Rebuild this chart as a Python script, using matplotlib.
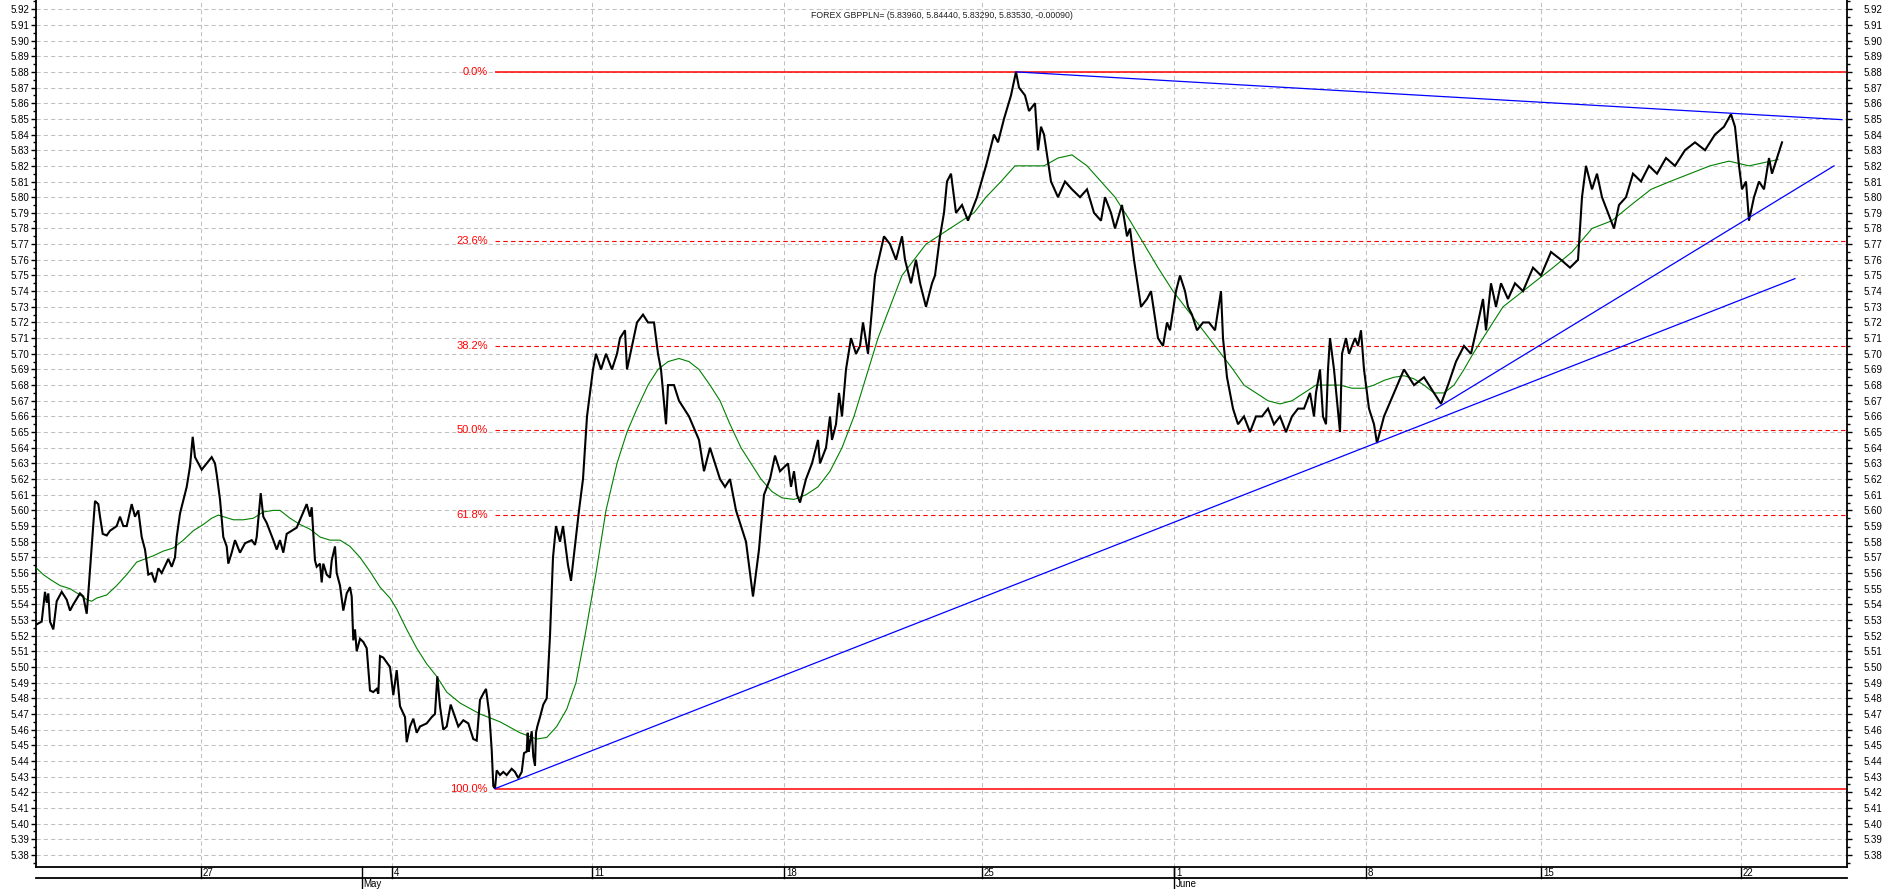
import matplotlib
matplotlib.use("Agg")
import matplotlib.pyplot as plt
from matplotlib.ticker import MultipleLocator, FormatStrFormatter
from matplotlib.transforms import blended_transform_factory

plt.rcParams['font.family'] = ['Liberation Sans', 'DejaVu Sans']

# ---------------- data (x in bar index) ----------------
price_x = [0, 5.7, 9, 10.7, 12.3, 14, 17.3, 20.7, 25.7, 30.7, 34, 37.3, 44, 47.3, 50.7, 52.3, 55.7, 59, 62.3, 64,
           66.7, 70.7, 74, 80.7, 84, 87.3, 90.7, 95.7, 99, 102.3, 105.7, 109, 112.3, 115.7, 119, 122.3, 125.7, 132.3,
           135.7, 139, 140.7, 144, 150.7, 154, 156.7, 159, 165.7, 175.7, 179, 180.7, 184, 187.3, 190.7, 192.3, 195.7,
           199, 204, 209, 215.7, 219, 220.7, 224.7, 227.3, 230.7, 237.3, 240.7, 244, 247.3, 250.7, 260.7, 264, 270.7,
           274, 275.7, 277.3, 279, 280.7, 284, 285.7, 287.3, 290.7, 294, 295.7, 299, 300.7, 304, 307.3, 310.7, 314,
           315.7, 317.3, 319, 320.7, 324, 327.3, 330.7, 334, 337.3, 340.7, 342.3, 344, 347.3, 354, 357.3, 360.7, 364,
           369, 370.7, 374, 377.3, 380.7, 384, 390.7, 395.7, 399, 401.3, 404, 407.3, 410.7, 414.7, 419, 422.3, 427.3,
           432.3, 437.3, 440.7, 444, 447.3, 450, 453.3, 455.7, 457.3, 459, 460.7, 464, 467.3, 470.7, 475.7, 479, 482.3,
           485.7, 488, 490.7, 491.7, 492.7, 494, 495.7, 497.3, 499, 500, 501.3, 504, 507.3, 510.7,
           514, 517, 520, 524, 527, 532, 535, 543, 547, 551, 557, 560, 565, 570, 576, 581, 584, 589, 591, 601, 607, 612,
           618, 622, 625, 630, 632, 638, 643, 653, 663, 668, 674, 684, 689, 694, 700, 705, 710, 715, 717, 720, 723, 725,
           728, 734, 739, 744, 752, 755, 758, 761, 764, 770, 776, 782, 784, 790, 794, 796, 800, 803, 806, 810, 815, 820,
           824, 827, 832, 839, 848, 854, 860, 866, 869, 875, 880, 884, 890, 896, 899, 904, 908, 911, 915, 920, 926, 932,
           938, 941, 950, 958, 962, 968, 975, 980, 983, 989, 993, 999, 1002, 1005, 1008, 1015, 1022, 1029, 1036, 1044,
           1051, 1058, 1065, 1069, 1075, 1079, 1086, 1091, 1094, 1098, 1105, 1111, 1115, 1122, 1127, 1131, 1134, 1140,
           1144, 1149, 1152, 1156, 1161, 1167, 1173, 1179, 1185, 1187, 1191, 1197, 1202, 1208, 1214, 1220, 1226, 1232,
           1238, 1244, 1250, 1256, 1262, 1268, 1274, 1278, 1280, 1284, 1287, 1290, 1292, 1294, 1298, 1301, 1304, 1306,
           1310, 1313, 1319, 1322, 1325, 1328, 1333, 1338, 1341, 1348, 1358, 1368, 1378, 1388, 1398, 1405, 1412, 1420,
           1428, 1435, 1442, 1447, 1450, 1455, 1460, 1465, 1472, 1479, 1487, 1497, 1505, 1515, 1525, 1534, 1542, 1546,
           1550, 1556, 1561, 1566, 1572, 1578, 1583, 1590, 1597, 1605, 1613, 1621, 1630, 1639, 1649, 1659, 1669, 1679,
           1688, 1695, 1699, 1703, 1706, 1710, 1713, 1718, 1723, 1728, 1733, 1736, 1746]
price_y = [5.527, 5.529, 5.548, 5.541, 5.547, 5.529, 5.524, 5.542, 5.548, 5.543, 5.536, 5.540, 5.547, 5.545, 5.534,
           5.547, 5.577, 5.606, 5.604, 5.596, 5.585, 5.584, 5.587, 5.590, 5.596, 5.590, 5.590, 5.604, 5.596, 5.600,
           5.583, 5.575, 5.559, 5.560, 5.554, 5.563, 5.560, 5.569, 5.564, 5.570, 5.583, 5.598, 5.615, 5.628, 5.647,
           5.634, 5.626, 5.634, 5.630, 5.623, 5.607, 5.583, 5.577, 5.566, 5.573, 5.581, 5.573, 5.579, 5.581, 5.578,
           5.583, 5.611, 5.596, 5.592, 5.581, 5.575, 5.581, 5.573, 5.585, 5.589, 5.594, 5.604, 5.596, 5.602, 5.585,
           5.568, 5.564, 5.566, 5.554, 5.566, 5.559, 5.557, 5.568, 5.577, 5.560, 5.552, 5.536, 5.547, 5.551, 5.545,
           5.517, 5.524, 5.510, 5.518, 5.516, 5.512, 5.485, 5.484, 5.486, 5.483, 5.507, 5.506, 5.500, 5.482, 5.498,
           5.475, 5.468, 5.452, 5.462, 5.467, 5.458, 5.462, 5.464, 5.468, 5.470, 5.494, 5.475, 5.460, 5.462, 5.476,
           5.468, 5.462, 5.466, 5.464, 5.454, 5.453, 5.479, 5.483, 5.486, 5.470, 5.447, 5.424, 5.4223, 5.434, 5.431,
           5.433, 5.431, 5.435, 5.433, 5.429, 5.433, 5.445, 5.446, 5.458, 5.446, 5.452, 5.459, 5.443, 5.437, 5.458,
           5.462, 5.468, 5.476, 5.480,
           5.52, 5.57, 5.59, 5.58, 5.59, 5.565, 5.555, 5.60, 5.62, 5.66, 5.69, 5.70, 5.69, 5.70, 5.69, 5.70, 5.71,
           5.715, 5.69, 5.72, 5.725, 5.72, 5.72, 5.70, 5.69, 5.655, 5.68, 5.68, 5.67, 5.66, 5.645, 5.625, 5.64, 5.62,
           5.615, 5.62, 5.60, 5.59, 5.58, 5.555, 5.545, 5.56, 5.575, 5.59, 5.61, 5.62, 5.635, 5.625, 5.63, 5.615,
           5.625, 5.61, 5.605, 5.62, 5.63, 5.645, 5.63, 5.64, 5.66, 5.645, 5.655, 5.675, 5.66, 5.69, 5.71, 5.70,
           5.705, 5.72, 5.70, 5.75, 5.775, 5.77, 5.76, 5.775, 5.76, 5.745, 5.76, 5.745, 5.73, 5.745, 5.75, 5.775,
           5.79, 5.81, 5.815, 5.79, 5.795, 5.785, 5.795, 5.80, 5.82, 5.84, 5.835, 5.85, 5.865, 5.88, 5.87, 5.865,
           5.855, 5.86, 5.83, 5.845, 5.84, 5.81, 5.80, 5.81, 5.805, 5.80, 5.805, 5.79, 5.785, 5.80, 5.79, 5.78, 5.795,
           5.775, 5.78, 5.76, 5.73, 5.735, 5.74, 5.71, 5.705, 5.72, 5.715, 5.74, 5.75, 5.74, 5.73, 5.725, 5.715, 5.72,
           5.72, 5.715, 5.74, 5.71, 5.685, 5.665, 5.655, 5.66, 5.65, 5.66, 5.66, 5.665, 5.655, 5.66, 5.65, 5.66,
           5.665, 5.665, 5.675, 5.66, 5.675, 5.69, 5.66, 5.655, 5.69, 5.71, 5.69, 5.67, 5.65, 5.70, 5.71, 5.70, 5.71,
           5.705, 5.715, 5.69, 5.665, 5.655, 5.643, 5.66, 5.675, 5.69, 5.68, 5.685, 5.675, 5.668, 5.68, 5.695, 5.705,
           5.70, 5.72, 5.735, 5.715, 5.745, 5.73, 5.745, 5.735, 5.745, 5.74, 5.755, 5.75, 5.765, 5.76, 5.755, 5.76,
           5.80, 5.82, 5.805, 5.815, 5.80, 5.79, 5.78, 5.795, 5.80, 5.815, 5.81, 5.82, 5.815, 5.825, 5.82, 5.83,
           5.835, 5.83, 5.84, 5.845, 5.853, 5.845, 5.82, 5.805, 5.81, 5.785, 5.80, 5.81, 5.805, 5.825, 5.815, 5.835]

ma_x = [0.7, 7.3, 14, 24, 34, 44, 50.7, 55.7, 60.7, 70.7, 80.7, 90.7, 100.7, 109, 117.3, 127.3, 137.3, 147.3, 157.3,
        167.3, 175.7, 182.3, 187.3, 197.3, 207.3, 217.3, 227.3, 237.3, 244, 254, 264, 274, 284, 294, 304, 314, 324,
        334, 344, 354, 360.7, 370.7, 380.7, 390.7, 400.7, 410.7, 424, 444, 464, 484, 500.7, 510.7, 520.7, 530.7,
        540, 549, 560, 570, 581, 591, 601, 612, 622, 632, 643, 653, 663, 674, 684, 694, 705, 715, 725, 736, 746, 758,
        770, 782, 794, 806, 818, 830, 842, 854, 866, 878, 890, 902, 914, 926, 938, 950, 965, 979, 993, 1008, 1022,
        1036, 1051, 1065, 1079, 1094, 1108, 1122, 1137, 1149, 1161, 1173, 1185, 1197, 1208, 1220, 1232, 1244, 1256,
        1268, 1280, 1292, 1304, 1316, 1328, 1338, 1348, 1358, 1368, 1378, 1388, 1398, 1408, 1418, 1428, 1437, 1447,
        1457, 1467, 1477, 1487, 1497, 1507, 1517, 1536, 1556, 1576, 1595, 1615, 1634, 1654, 1674, 1693, 1713, 1742]
ma_y = [5.563, 5.559, 5.556, 5.552, 5.550, 5.546, 5.543, 5.542, 5.544, 5.546, 5.552, 5.559, 5.567, 5.569, 5.571,
        5.574, 5.576, 5.581, 5.587, 5.591, 5.595, 5.597, 5.596, 5.594, 5.594, 5.595, 5.599, 5.600, 5.600, 5.595,
        5.591, 5.588, 5.583, 5.581, 5.581, 5.577, 5.570, 5.561, 5.551, 5.544, 5.537, 5.524, 5.512, 5.502, 5.494,
        5.484, 5.477, 5.470, 5.465, 5.458, 5.454, 5.455, 5.462, 5.473, 5.49, 5.52, 5.56, 5.60, 5.63, 5.65, 5.665,
        5.68, 5.69, 5.695, 5.697, 5.695, 5.69, 5.68, 5.67, 5.655, 5.64, 5.63, 5.62, 5.612, 5.608, 5.607, 5.61,
        5.615, 5.625, 5.64, 5.66, 5.685, 5.71, 5.73, 5.75, 5.76, 5.77, 5.775, 5.78, 5.785, 5.79, 5.80, 5.81, 5.82,
        5.82, 5.82, 5.825, 5.827, 5.82, 5.81, 5.80, 5.785, 5.77, 5.755, 5.74, 5.73, 5.72, 5.71, 5.70, 5.69, 5.68,
        5.675, 5.67, 5.668, 5.67, 5.675, 5.68, 5.68, 5.68, 5.678, 5.678, 5.68, 5.683, 5.685, 5.686, 5.684, 5.68,
        5.675, 5.675, 5.68, 5.69, 5.70, 5.71, 5.72, 5.73, 5.735, 5.74, 5.745, 5.75, 5.755, 5.765, 5.78, 5.785,
        5.795, 5.805, 5.81, 5.815, 5.82, 5.823, 5.82, 5.824]

# Trend lines drawn on the chart (start x, start y, end x, end y)
resist_x = [980, 1806]
resist_y = [5.8800, 5.8495]
support_long_x = [459, 1759]
support_long_y = [5.4223, 5.748]
support_short_x = [1400, 1798]
support_short_y = [5.665, 5.820]

# Fibonacci retracement
fib_low = 5.4223
fib_high = 5.8800
fib_levels = [0.0, 23.6, 38.2, 50.0, 61.8, 100.0]

# x axis labels
day_pos = [165, 356, 556, 748, 946, 1138, 1330, 1505, 1705]
day_labels = ['27', '4', '11', '18', '25', '1', '8', '15', '22']
month_pos = [326, 1138]
month_labels = ['May', 'June']

title = "FOREX GBPPLN= (5.83960, 5.84440, 5.83290, 5.83530, -0.00090)"

# ---------------- figure ----------------
W, H = 1883, 889
fig = plt.figure(figsize=(W / 100, H / 100), dpi=100)
ax_l, ax_r, ax_b, ax_t = 36, 1847, 867.3, 0
ax = fig.add_axes([ax_l / W, 1 - ax_b / H, (ax_r - ax_l) / W, (ax_b - ax_t) / H])
ax.set_xlim(0, 1811)
ylim = (5.3721, 5.9259)
ax.set_ylim(*ylim)

grid_col = '#c0c0c0'
ax.yaxis.set_major_locator(MultipleLocator(0.01))
ax.yaxis.set_minor_locator(MultipleLocator(0.005))
ax.yaxis.set_major_formatter(FormatStrFormatter('%.2f'))
ax.grid(axis='y', which='major', color=grid_col, linestyle=(0, (4, 3)), linewidth=0.75)
for p in day_pos:
    ax.axvline(p, color=grid_col, linestyle=(0, (4, 3)), linewidth=0.75, zorder=0.5)

ax.tick_params(axis='y', which='major', direction='out', length=3.5, width=1.0, labelsize=7,
               left=True, right=False, labelleft=True, labelright=False, pad=1.5)
ax.tick_params(axis='y', which='minor', direction='out', length=2, width=1.0, left=True, right=False)
ax.set_xticks([])

# right-hand price scale
ax2 = ax.twinx()
ax2.set_ylim(*ylim)
ax2.yaxis.set_major_locator(MultipleLocator(0.01))
ax2.yaxis.set_minor_locator(MultipleLocator(0.005))
ax2.yaxis.set_major_formatter(FormatStrFormatter('%.2f'))
ax2.tick_params(axis='y', which='major', direction='out', length=3.5, width=1.0, labelsize=7, pad=8.5)
ax2.tick_params(axis='y', which='minor', direction='out', length=2, width=1.0)
for a in (ax, ax2):
    a.spines['top'].set_visible(False)
    for s in ['left', 'bottom', 'right']:
        a.spines[s].set_linewidth(1.3)
        a.spines[s].set_color('black')
ax2.spines['left'].set_visible(False)
ax2.spines['bottom'].set_visible(False)
ax.spines['right'].set_visible(False)

# Fibonacci
rng = fib_high - fib_low
low_idx = price_y.index(min(price_y))
fib_x0 = price_x[low_idx]
for lev in fib_levels:
    yv = fib_high - rng * lev / 100.0
    if lev in (0.0, 100.0):
        ax.plot([fib_x0, 1811], [yv, yv], color='#ff0000', linewidth=1.1, zorder=2, solid_capstyle='butt')
    else:
        ax.plot([fib_x0, 1811], [yv, yv], color='#ff0000', linewidth=0.8, linestyle=(0, (4, 3)), zorder=2)
    ax.text(fib_x0 - 7, yv, f"{lev:.1f}%", color='#ff0000', fontsize=8, ha='right', va='center', zorder=3)

# Moving average and price
ax.plot(ma_x, ma_y, color='#008000', linewidth=0.8, zorder=3)
ax.plot(price_x, price_y, color='black', linewidth=1.5, zorder=4, solid_joinstyle='miter')

# Trend lines
for xs, ys in [(resist_x, resist_y), (support_long_x, support_long_y), (support_short_x, support_short_y)]:
    ax.plot(xs, ys, color='#0000ff', linewidth=0.9, zorder=5)

ax.text(0.5, 1 - 16 / (ax_b - ax_t), title, transform=ax.transAxes, ha='center', va='center',
        fontsize=6.3, color='#222222', zorder=6)

# custom x axis (date rows)
trans = blended_transform_factory(ax.transData, ax.transAxes)
hgt = ax_b - ax_t
y_row1 = -(878 - ax_b) / hgt
y_row2 = -(889 - ax_b) / hgt
ax.plot([0, 1811], [y_row1, y_row1], color='black', linewidth=1.3, transform=trans, clip_on=False)
for p, lab in zip(day_pos, day_labels):
    ax.plot([p, p], [0, y_row1], color='black', linewidth=1.0, transform=trans, clip_on=False)
    ax.text(p + 2, (0 + y_row1) / 2, lab, transform=trans, fontsize=7, ha='left', va='center', clip_on=False)
for p, lab in zip(month_pos, month_labels):
    ax.plot([p, p], [0, y_row2 - 0.01], color='black', linewidth=1.0, transform=trans, clip_on=False)
    ax.text(p + 1.5, (y_row1 + y_row2) / 2 - 0.001, lab, transform=trans, fontsize=7, ha='left', va='center',
            clip_on=False)

fig.savefig('out.png', dpi=100)
